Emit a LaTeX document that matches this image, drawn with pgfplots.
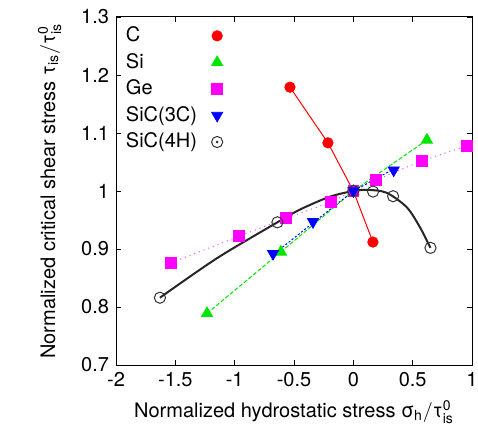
\documentclass[border=0pt]{standalone}
\usepackage{fontspec}
\setmainfont{TeX Gyre Heros}
\usepackage{amsmath}
\usepackage{pgfplots}
\pgfplotsset{compat=1.18}

\definecolor{gpred}{RGB}{255,0,0}
\definecolor{gpgreen}{RGB}{0,230,0}
\definecolor{gpmag}{RGB}{255,0,255}
\definecolor{gpblue}{RGB}{0,0,255}

\begin{document}
\begin{tikzpicture}
\begin{axis}[
    scale only axis,
    width=178pt,
    height=174pt,
    xmin=-2, xmax=1,
    ymin=0.7, ymax=1.3,
    xtick={-2,-1.5,...,1},
    ytick={0.7,0.8,...,1.3},
    yticklabels={0.7,0.8,0.9,1,1.1,1.2,1.3},
    xticklabels={-2,-1.5,-1,-0.5,0,0.5,1},
    /pgf/number format/assume math mode=true,
    tick label style={font=\fontsize{10}{11}\selectfont},
    label style={font=\fontsize{10}{11}\selectfont},
    major tick length=2.5pt,
    tick style={black, line width=0.4pt},
    axis line style={line width=0.5pt},
    xlabel={Normalized hydrostatic stress $\text{σ}_{\text{h}}/\text{τ}^{\text{0}}_{\text{is}}$},
    ylabel={Normalized critical shear stress $\text{τ}_{\text{is}}/\text{τ}^{\text{0}}_{\text{is}}$},
    xlabel style={yshift=0pt},
    ylabel style={yshift=3pt},
    legend plot pos=right,
    legend cell align=left,
    legend style={draw=none, fill=none, at={(0.01,0.99)}, anchor=north west,
        font=\fontsize{10}{10}\selectfont, row sep=0.3pt, column sep=5pt, inner sep=1pt},
]
% lines
\addplot[gpred, line width=0.5pt, forget plot] coordinates {
    (-0.534,1.179) (-0.214,1.083) (0,1.0) (0.165,0.912)};
\addplot[gpgreen, line width=0.5pt, dash pattern=on 2pt off 1pt, forget plot] coordinates {
    (-1.233,0.789) (-0.61,0.895) (0,1.0) (0.62,1.088)};
\addplot[gpmag!70, line width=0.5pt, dotted, forget plot] coordinates {
    (-1.537,0.876) (-0.964,0.922) (-0.567,0.953) (-0.189,0.981) (0,1.0) (0.19,1.019) (0.578,1.052) (0.957,1.078)};
\addplot[gpblue, line width=0.5pt, dash pattern=on 1pt off 1pt, forget plot] coordinates {
    (-0.677,0.890) (-0.34,0.945) (0,1.0) (0.34,1.038)};
\addplot[black!85, line width=1pt, smooth, tension=0.5, forget plot] coordinates {
    (-1.63,0.816) (-1.15,0.884) (-0.64,0.946) (-0.45,0.968) (-0.2,0.990)
    (0,1.0) (0.12,1.002) (0.28,0.997) (0.45,0.972) (0.56,0.938) (0.65,0.902)};
% marks
\addplot[only marks, mark=*, mark size=2.6pt, color=gpred] coordinates {
    (-0.534,1.179) (-0.214,1.083) (0,1.0) (0.165,0.912)};
\addlegendentry{C}
\addplot[only marks, mark=triangle*, mark size=3.2pt, color=gpgreen] coordinates {
    (-1.233,0.789) (-0.61,0.895) (0,1.0) (0.62,1.088)};
\addlegendentry{Si}
\addplot[only marks, mark=square*, mark size=2.7pt, color=gpmag] coordinates {
    (-1.537,0.876) (-0.964,0.922) (-0.567,0.953) (-0.189,0.981) (0,1.0) (0.19,1.019) (0.578,1.052) (0.957,1.078)};
\addlegendentry{Ge}
\addplot[only marks, mark=triangle*, mark options={rotate=180}, mark size=3.2pt, color=gpblue] coordinates {
    (-0.677,0.892) (-0.34,0.947) (0,1.0) (0.34,1.036)};
\addlegendentry{SiC(3C)}
\addplot[only marks, mark=o, mark size=2.8pt, color=black!80, mark options={line width=0.5pt},
    legend image code/.code={
        \draw[black!80, line width=0.5pt] (0.3cm,0cm) circle (2.8pt);
        \fill[black!80] (0.3cm,0cm) circle (0.5pt);}] coordinates {
    (-1.63,0.816) (-0.64,0.946) (0,1.0) (0.166,0.999) (0.335,0.991) (0.65,0.902)};
\addlegendentry{SiC(4H)}
\end{axis}
\pgfresetboundingbox
\path[use as bounding box] ([xshift=-58pt,yshift=-33.5pt]current axis.south west) rectangle ([xshift=3pt,yshift=8.5pt]current axis.north east);
\end{tikzpicture}
\end{document}
